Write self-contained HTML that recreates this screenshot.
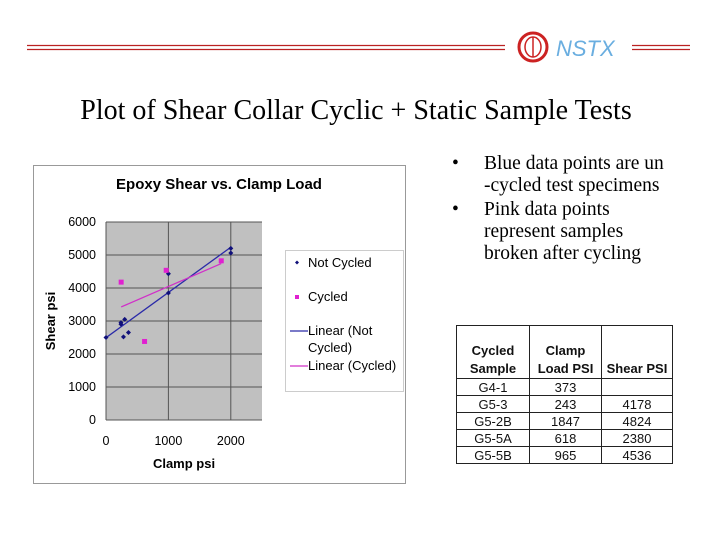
<!DOCTYPE html>
<html><head><meta charset="utf-8">
<style>
body{margin:0;width:720px;height:540px;background:#fff;position:relative;overflow:hidden;font-family:"Liberation Serif",serif}
.a{position:absolute}
table{border-collapse:collapse;font-family:"Liberation Sans",sans-serif;font-size:13px;color:#111}
td{border:1px solid #222;text-align:center;padding:0;height:16px;line-height:15px}
</style></head><body>
<svg class="a" style="left:0;top:0" width="720" height="540">
 <g stroke="#b22" stroke-width="1.2">
  <line x1="27" y1="45.5" x2="505" y2="45.5"/><line x1="27" y1="49.5" x2="505" y2="49.5"/>
 </g>
 <g stroke="#b22" stroke-width="1.2">
  <line x1="632" y1="45.5" x2="690" y2="45.5"/><line x1="632" y1="49.5" x2="690" y2="49.5"/>
 </g>
 <g>
  <circle cx="533" cy="47" r="14" fill="none" stroke="#c22" stroke-width="3"/>
  <ellipse cx="533" cy="47" rx="8" ry="10" fill="none" stroke="#c22" stroke-width="1.5"/>
  <line x1="533" y1="37" x2="533" y2="57" stroke="#c22" stroke-width="1.5"/>
  <text x="556" y="56" font-family="Liberation Sans,sans-serif" font-size="22" font-style="italic" fill="#6aaee0">NSTX</text>
 </g>
</svg>
<div class="a" style="left:0;width:712px;top:95px;text-align:center;font-size:28px;color:#000">Plot of Shear Collar Cyclic + Static Sample Tests</div>

<svg class="a" id="chart" style="left:0;top:0" width="720" height="540"></svg>

<div class="a" style="left:452px;top:153px;font-size:19.5px;line-height:22px;color:#000;white-space:nowrap">
 <div style="position:relative;padding-left:32px"><span style="position:absolute;left:0">•</span>Blue data points are un<br>-cycled test specimens</div>
 <div style="position:relative;padding-left:32px;margin-top:2px"><span style="position:absolute;left:0">•</span>Pink data points<br>represent samples<br>broken after cycling</div>
</div>

<table class="a" style="left:456px;top:325px;width:217px">
 <tr style="height:53px;font-weight:bold"><td style="width:72px;vertical-align:bottom;line-height:18px">Cycled<br>Sample</td><td style="width:71px;vertical-align:bottom;line-height:18px">Clamp<br>Load PSI</td><td style="vertical-align:bottom;line-height:18px">Shear PSI</td></tr>
 <tr><td>G4-1</td><td>373</td><td></td></tr>
 <tr><td>G5-3</td><td>243</td><td>4178</td></tr>
 <tr><td>G5-2B</td><td>1847</td><td>4824</td></tr>
 <tr><td>G5-5A</td><td>618</td><td>2380</td></tr>
 <tr><td>G5-5B</td><td>965</td><td>4536</td></tr>
</table>

<script>
const notCycledX=[0,240,240,280,300,360,1000,1000,2000,2000];
const notCycledY=[2500,2900,2950,2520,3050,2650,3850,4430,5200,5060];
const cycledX=[243,1847,618,965];
const cycledY=[4178,4824,2380,4536];
const xTicks=[0,1000,2000];
const yTicks=[0,1000,2000,3000,4000,5000,6000];
const NS='http://www.w3.org/2000/svg';
const svg=document.getElementById('chart');
const X0=106,X1=262,Y0=420,Y1=222,XMAX=2500,YMAX=6000;
const sx=v=>X0+v/XMAX*(X1-X0), sy=v=>Y0-v/YMAX*(Y0-Y1);
function mk(t,a,parent){const e=document.createElementNS(NS,t);for(const k in a)e.setAttribute(k,a[k]);(parent||svg).appendChild(e);return e;}
const frame=mk('rect',{x:33.5,y:165.5,width:372,height:318,fill:'#fff',stroke:'#999'});


const pa=mk('rect',{x:X0,y:Y1,width:X1-X0,height:Y0-Y1,fill:'#c0c0c0'});


yTicks.forEach(v=>{
 const l=mk('line',{x1:X0,x2:X1,y1:sy(v),y2:sy(v),stroke:'#555','stroke-width':1});
 
 
 const t=mk('text',{x:X0-10,y:sy(v)+4,'text-anchor':'end','font-family':'Liberation Sans,sans-serif','font-size':12.5,fill:'#000'});t.textContent=v;
 
 
});
xTicks.forEach(v=>{
 const l=mk('line',{x1:sx(v),x2:sx(v),y1:Y1,y2:Y0,stroke:'#555','stroke-width':1});
 
 
 const t=mk('text',{x:sx(v),y:Y0+25,'text-anchor':'middle','font-family':'Liberation Sans,sans-serif','font-size':12.5,fill:'#000'});t.textContent=v;
 
 
});
function fit(xs,ys){const n=xs.length,mx=xs.reduce((a,b)=>a+b)/n,my=ys.reduce((a,b)=>a+b)/n;let sxy=0,sxx=0;xs.forEach((x,i)=>{sxy+=(x-mx)*(ys[i]-my);sxx+=(x-mx)**2});const m=sxy/sxx;return [m,my-m*mx];}
const [m1,b1]=fit(notCycledX,notCycledY);
const tl1=mk('line',{x1:sx(Math.min(...notCycledX)),y1:sy(b1+m1*Math.min(...notCycledX)),x2:sx(Math.max(...notCycledX)),y2:sy(b1+m1*Math.max(...notCycledX)),stroke:'#2a2aa8','stroke-width':1.3});


const [m2,b2]=fit(cycledX,cycledY);
const tl2=mk('line',{x1:sx(Math.min(...cycledX)),y1:sy(b2+m2*Math.min(...cycledX)),x2:sx(Math.max(...cycledX)),y2:sy(b2+m2*Math.max(...cycledX)),stroke:'#d030c8','stroke-width':1.3});


notCycledX.forEach((x,i)=>{const cx=sx(x),cy=sy(notCycledY[i]);
 const p=mk('polygon',{points:`${cx},${cy-2.5} ${cx+2.5},${cy} ${cx},${cy+2.5} ${cx-2.5},${cy}`,fill:'#10107a'});
 
 });
cycledX.forEach((x,i)=>{
 const p=mk('rect',{x:sx(x)-2.5,y:sy(cycledY[i])-2.5,width:5,height:5,fill:'#e020d0'});
 
 });
const ttl=mk('text',{x:219,y:189,'text-anchor':'middle','font-family':'Liberation Sans,sans-serif','font-size':15,'font-weight':'bold'});ttl.textContent='Epoxy Shear vs. Clamp Load';


const xt=mk('text',{x:184,y:468,'text-anchor':'middle','font-family':'Liberation Sans,sans-serif','font-size':13,'font-weight':'bold'});xt.textContent='Clamp psi';


const yt=mk('text',{x:0,y:0,transform:'translate(55,321) rotate(-90)','text-anchor':'middle','font-family':'Liberation Sans,sans-serif','font-size':13,'font-weight':'bold'});yt.textContent='Shear psi';


const lg=mk('rect',{x:285.5,y:250.5,width:118,height:141,fill:'#fff',stroke:'#ccc'});


const lf='Liberation Sans,sans-serif';
function lt(txt,x,y){const t=mk('text',{x:x,y:y,'font-family':lf,'font-size':13});t.textContent=txt;
 
 }
const ld=mk('polygon',{points:'297,260.5 299,262.5 297,264.5 295,262.5',fill:'#10107a'});


lt('Not Cycled',308,267);
const ls=mk('rect',{x:295,y:295,width:4,height:4,fill:'#e020d0'});


lt('Cycled',308,301);
const ll1=mk('line',{x1:290,x2:308,y1:331,y2:331,stroke:'#2a2aa8','stroke-width':1.3});


lt('Linear (Not',308,335);lt('Cycled)',308,352);
const ll2=mk('line',{x1:290,x2:308,y1:366,y2:366,stroke:'#d030c8','stroke-width':1.3});


lt('Linear (Cycled)',308,370);
</script>
</body></html>
